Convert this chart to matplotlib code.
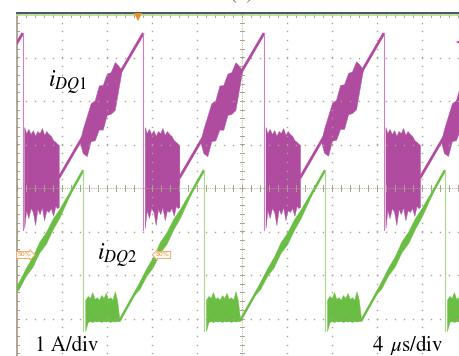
import numpy as np
import matplotlib
matplotlib.use('Agg')
import matplotlib.pyplot as plt

plt.rcParams['font.family'] = ['STIXGeneral', 'DejaVu Serif']
plt.rcParams['mathtext.fontset'] = 'stix'

# screen units: x in us (4 us/div), y in A (1 A/div), centre line = 0 A

# iDQ1 (purple): falling edge times, levels
drops_1 = [-10.20, 0.51, 11.23, 21.96, 32.62, 43.33]
peak_1 = 3.56
low_1 = -0.97
ramp0_1 = (3.20, 0.23)          # (time after edge, A) where the ramp starts
# ringing block after the edge
blk_t1 = [0.13, 0.30, 0.50, 0.70, 0.90, 1.10, 1.30, 1.50, 1.70, 1.90, 2.10, 2.30, 2.50, 2.70, 2.90, 3.05, 3.20]
blk_hi1 = [1.40, 1.26, 1.36, 1.24, 1.33, 1.20, 1.31, 1.26, 1.38, 1.22, 1.31, 1.24, 1.20, 1.10, 1.06, 1.02, 0.99]
blk_lo1 = [-0.92, -0.51, -0.69, -0.46, -0.55, -0.85, -0.48, -0.60, -0.44, -0.74, -0.51, -0.55, -0.46, -0.64, -0.41, -0.46, -0.44]
# noisy part of the ramp (offsets above / below the ramp line)
nz_t1 = [5.07, 5.33, 5.69, 6.04, 6.40, 6.76, 7.11, 7.47, 7.82, 8.18, 8.44, 8.62, 8.80]
nz_up1 = [0, 0.18, 0.32, 0.46, 0.37, 0.55, 0.41, 0.51, 0.39, 0.46, 0.28, 0.14, 0]
nz_dn1 = [0, 0.37, 0.60, 0.41, 0.55, 0.46, 0.62, 0.44, 0.57, 0.64, 0.37, 0.18, 0]

# iDQ2 (green)
drops_2 = [-4.83, 5.89, 16.62, 27.38, 38.04, 48.76]
peak_2 = 0.41
low_2 = -3.29
ramp0_2 = (3.20, -3.06)
blk_t2 = [0.18, 0.40, 0.60, 0.80, 1.00, 1.20, 1.40, 1.60, 1.80, 2.00, 2.20, 2.40, 2.60, 2.80, 3.00, 3.20]
blk_hi2 = [-2.57, -2.48, -2.53, -2.39, -2.55, -2.51, -2.57, -2.46, -2.53, -2.41, -2.55, -2.51, -2.57, -2.37, -2.57, -2.99]
blk_lo2 = [-3.29, -3.08, -3.06, -3.08, -3.06, -3.07, -3.06, -3.08, -3.06, -3.07, -3.06, -3.08, -3.06, -3.07, -3.06, -3.06]
nz_t2 = [4.5, 5.0, 5.6, 6.2, 6.8, 7.4, 8.0, 8.6, 9.2, 9.6]
nz_up2 = [0, 0.07, 0.11, 0.09, 0.16, 0.11, 0.14, 0.09, 0.07, 0]
nz_dn2 = [0, 0.09, 0.07, 0.14, 0.09, 0.16, 0.11, 0.11, 0.05, 0]

PURPLE = '#b04ca0'
PURPLE_L = '#cc80c2'
GREEN = '#6abe44'
GREEN_L = '#a6d98c'
GRID = '#aaa28a'

fig = plt.figure(figsize=(4.6, 3.56), dpi=100)
# the scope screen is cropped on the right and bottom
ax = fig.add_axes([17 / 460, -6 / 356, 450 / 460, 348 / 356])
ax.set_xlim(0, 40)
ax.set_ylim(-4, 4)
ax.axis('off')

# graticule dots
for gx in range(4, 40, 4):
    if gx == 20:
        continue
    gy = np.arange(-4, 4.01, 0.2)
    ax.plot(np.full_like(gy, gx), gy, ls='none', marker='s', ms=1.0, color=GRID, mew=0)
for gy in [-3, -2, -1, 1, 2, 3]:
    gx = np.arange(0, 40.01, 0.8)
    ax.plot(gx, np.full_like(gx, gy), ls='none', marker='s', ms=1.0, color=GRID, mew=0)

# centre cross with minor ticks
ax.plot([0, 40], [0, 0], color=GRID, lw=0.6, ls=(0, (1, 1.2)))
ax.plot([20, 20], [-4, 4], color=GRID, lw=0.6, ls=(0, (1, 1.2)))
for tx in np.arange(0, 40.01, 0.8):
    ax.plot([tx, tx], [-0.06, 0.06], color=GRID, lw=0.7)
    ax.plot([tx, tx], [4.0, 3.93], color=GRID, lw=0.7, clip_on=False)
for ty in np.arange(-4, 4.01, 0.2):
    ax.plot([19.78, 20.22], [ty, ty], color=GRID, lw=0.7)
    ax.plot([0, 0.18], [ty, ty], color=GRID, lw=0.7)

# border
ax.plot([0, 0], [-4, 4], color='#9a9078', lw=1.1, clip_on=False)
ax.plot([0, 40], [3.975, 3.975], color='#bcd98e', lw=1.2, clip_on=False)
ax.plot([0, 40], [4.012, 4.012], color='#2f4b58', lw=1.3, clip_on=False)


def draw_trace(drops, peak, low, ramp0, bt, bhi, blo, nt, nup, ndn, col, col_l, lw):
    for t0, t1 in zip(drops[:-1], drops[1:]):
        ax.plot([t0, t0], [peak, low], color=col_l, lw=0.8)
        ax.fill_between(t0 + np.array(bt), bhi, blo, color=col, lw=0.3, edgecolor=col)
        ts, ys = t0 + ramp0[0], ramp0[1]
        ax.plot([ts, t1], [ys, peak], color=col, lw=lw, solid_capstyle='butt')
        tn = t0 + np.array(nt)
        base = np.interp(tn, [ts, t1], [ys, peak])
        ax.fill_between(tn, base + np.array(nup), base - np.array(ndn), color=col, lw=0.3, edgecolor=col)


draw_trace(drops_1, peak_1, low_1, ramp0_1, blk_t1, blk_hi1, blk_lo1,
           nz_t1, nz_up1, nz_dn1, PURPLE, PURPLE_L, 2.0)
draw_trace(drops_2, peak_2, low_2, ramp0_2, blk_t2, blk_hi2, blk_lo2,
           nz_t2, nz_up2, nz_dn2, GREEN, GREEN_L, 1.8)

# markers
ax.plot([10.76], [3.93], marker='v', ms=6, color='#f08a24', mew=0, clip_on=False)
ax.plot([39.3], [3.36], marker='<', ms=4, color=PURPLE, mew=0, clip_on=False)
ax.text(0.05, -1.54, '50%', fontsize=4.5, color='#f08a24', va='center', ha='left',
        family='DejaVu Sans',
        bbox=dict(boxstyle='rarrow,pad=0.15', fc='white', ec='#f5a860', lw=0.7))
ax.text(12.35, -1.54, '50%', fontsize=4.5, color='#f08a24', va='center', ha='left',
        family='DejaVu Sans',
        bbox=dict(boxstyle='larrow,pad=0.15', fc='white', ec='#f5a860', lw=0.7))

# labels
ax.text(2.76, 2.30, r'$i_{DQ\mathrm{1}}$', fontsize=17, color='black', va='baseline')
ax.text(7.11, -1.66, r'$i_{DQ\mathrm{2}}$', fontsize=17, color='black', va='baseline')
ax.text(1.6, -3.75, '1 A/div', fontsize=15, color='black', va='baseline')
ax.text(31.6, -3.75, r'4 $\,\mu$s/div', fontsize=15, color='black', va='baseline')
fig.text(242 / 460, 1.002, '(a)', fontsize=15, ha='center', va='baseline', color='#555555')

fig.savefig('out.png', dpi=100)
